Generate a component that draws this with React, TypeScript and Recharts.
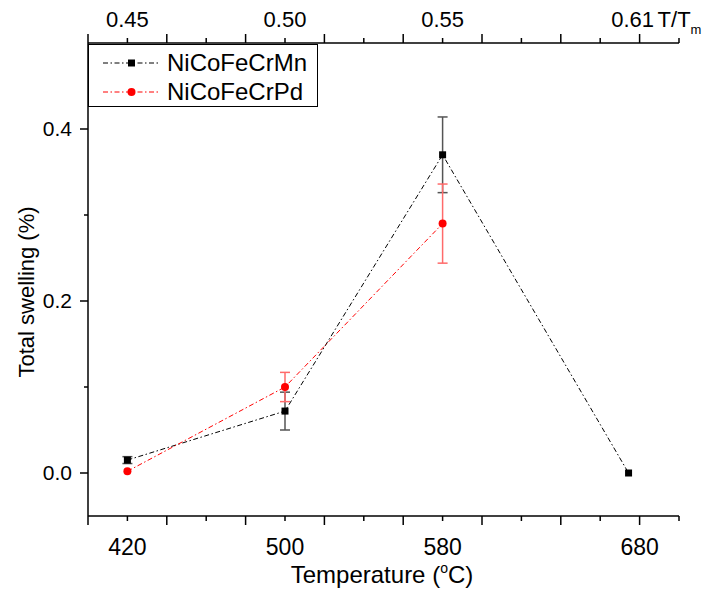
import React from "react";
import { ErrorBar, Legend, Line, LineChart, XAxis, YAxis } from "recharts";

// homologous temperature T/Tm of each irradiation
const tOverTm = [0.45, 0.5, 0.55, 0.609];
const mnSwelling = [0.015, 0.072, 0.37, 0.0];
const mnError: (number | null)[] = [0.004, 0.022, 0.044, null];
const pdSwelling: (number | null)[] = [0.002, 0.1, 0.29, null];
const pdError: (number | null)[] = [0, 0.017, 0.046, null];

const xTicks = [
  0.4375, 0.45, 0.4625, 0.475, 0.4875, 0.5, 0.5125, 0.525, 0.5375, 0.55, 0.5625, 0.575, 0.5875, 0.6,
  0.6125, 0.625,
];
const xLabelAt = [0.45, 0.5, 0.55, 0.6125];
const tempLabels = ["420", "500", "580", "680"];
const homLabels = ["0.45", "0.50", "0.55", "0.61"];
const yTicks = [0, 0.1, 0.2, 0.3, 0.4];
const yLabels = ["0.0", "", "0.2", "", "0.4"];

const seriesNames = ["NiCoFeCrMn", "NiCoFeCrPd"];
const seriesColors = ["#000000", "#ff0000"];

const FONT = "'Liberation Sans', Arial, sans-serif";
const DASH = "5 2.5 1.5 2.5";

const data = tOverTm.map((t, i) => ({
  t,
  mn: mnSwelling[i],
  mnErr: mnError[i],
  pd: pdSwelling[i],
  pdErr: pdError[i],
}));

function labelIndex(v: number) {
  return xLabelAt.findIndex((a) => Math.abs(a - v) < 1e-6);
}

function isMajor(v: number) {
  return Math.round((v - 0.4375) / 0.0125) % 2 === 0;
}

function BottomTick(props: any) {
  const { x, y, payload } = props;
  const v = payload.value;
  const li = labelIndex(v);
  return (
    <g>
      <line x1={x} x2={x} y1={y} y2={y + (isMajor(v) ? 9 : 5)} stroke="#000" strokeWidth={1.5} />
      {li >= 0 && (
        <text x={x} y={y + 39} textAnchor="middle" fontSize={23} fontFamily={FONT} fill="#000">
          {tempLabels[li]}
        </text>
      )}
    </g>
  );
}

function TopTick(props: any) {
  const { x, y, payload } = props;
  const v = payload.value;
  const li = labelIndex(v);
  const last = li === homLabels.length - 1;
  return (
    <g>
      <line x1={x} x2={x} y1={y} y2={y - (isMajor(v) ? 9 : 5)} stroke="#000" strokeWidth={1.5} />
      {li >= 0 && (
        <text
          x={last ? x - 7 : x}
          y={y - 16}
          textAnchor="middle"
          fontSize={22}
          fontFamily={FONT}
          fill="#000"
        >
          {homLabels[li]}
        </text>
      )}
      {last && (
        <text x={x + 18} y={y - 16} fontSize={22} fontFamily={FONT} fill="#000">
          T/T
          <tspan fontSize={13} dy={7} fill="#000">
            m
          </tspan>
        </text>
      )}
    </g>
  );
}

function LeftTick(props: any) {
  const { x, y, payload, index } = props;
  const label = yLabels[index];
  return (
    <g>
      <line x1={x} x2={x - (label ? 8 : 4)} y1={y} y2={y} stroke="#000" strokeWidth={1.5} />
      {label && (
        <text x={x - 16} y={y + 7} textAnchor="end" fontSize={21} fontFamily={FONT} fill="#000">
          {label}
        </text>
      )}
    </g>
  );
}

function SquareDot(props: any) {
  const { cx, cy, index } = props;
  if (cx == null || cy == null) return <g key={index} />;
  return <rect key={index} x={cx - 3.5} y={cy - 3.5} width={7} height={7} fill="#000" />;
}

function CircleDot(props: any) {
  const { cx, cy, index } = props;
  if (cx == null || cy == null) return <g key={index} />;
  return <circle key={index} cx={cx} cy={cy} r={4} fill="#ff0000" />;
}

function LegendBox() {
  return (
    <svg width={230} height={63} style={{ display: "block" }}>
      <rect x={0.5} y={0.5} width={229} height={62} fill="#fff" stroke="#000" strokeWidth={1} />
      {seriesNames.map((name, i) => {
        const cy = 19 + i * 29;
        return (
          <g key={name}>
            <line x1={15} x2={70} y1={cy} y2={cy} stroke={seriesColors[i]} strokeDasharray={DASH} />
            {i === 0 ? (
              <rect x={40} y={cy - 3.5} width={7} height={7} fill="#000" />
            ) : (
              <circle cx={43.5} cy={cy} r={4} fill="#ff0000" />
            )}
            <text x={79} y={cy + 8} fontSize={24} fontFamily={FONT} fill="#000">
              {name}
            </text>
          </g>
        );
      })}
    </svg>
  );
}

export default function App() {
  return (
    <div style={{ position: "absolute", left: 0, top: 0, background: "#fff" }}>
      <LineChart width={717} height={596} data={data} margin={{ top: 0, right: 38, bottom: 0, left: 0 }}>
        <XAxis
          xAxisId="bottom"
          dataKey="t"
          type="number"
          domain={[0.4375, 0.625]}
          ticks={xTicks}
          interval={0}
          height={80}
          tickSize={0}
          tickMargin={0}
          tickLine={false}
          axisLine={{ stroke: "#000", strokeWidth: 1.5 }}
          tick={<BottomTick />}
          label={{
            content: () => (
              <text x={382} y={583} textAnchor="middle" fontSize={24} fontFamily={FONT} fill="#000">
                Temperature (
                <tspan fontSize={14} dy={-10}>
                  o
                </tspan>
                <tspan dy={10}>C)</tspan>
              </text>
            ),
          }}
        />
        <XAxis
          xAxisId="top"
          orientation="top"
          dataKey="t"
          type="number"
          domain={[0.4375, 0.625]}
          ticks={xTicks}
          interval={0}
          height={43}
          tickSize={0}
          tickMargin={0}
          tickLine={false}
          axisLine={{ stroke: "#000", strokeWidth: 1.5 }}
          tick={<TopTick />}
        />
        <YAxis
          yAxisId="left"
          type="number"
          domain={[-0.05, 0.5]}
          ticks={yTicks}
          interval={0}
          width={88}
          tickSize={0}
          tickMargin={0}
          tickLine={false}
          axisLine={{ stroke: "#000", strokeWidth: 1.5 }}
          tick={<LeftTick />}
          label={{
            content: () => (
              <text
                x={34}
                y={292}
                textAnchor="middle"
                fontSize={22}
                fontFamily={FONT}
                fill="#000"
                transform="rotate(-90 34 292)"
              >
                Total swelling (%)
              </text>
            ),
          }}
        />
        <YAxis
          yAxisId="right"
          orientation="right"
          type="number"
          domain={[-0.05, 0.5]}
          width={0}
          tick={false}
          tickLine={false}
          axisLine={{ stroke: "#000", strokeWidth: 1.5 }}
        />
        <Legend
          layout="vertical"
          align="center"
          verticalAlign="middle"
          wrapperStyle={{ left: 88, top: 44, width: 230, height: 63 }}
          content={() => <LegendBox />}
        />
        <Line
          xAxisId="bottom"
          yAxisId="left"
          dataKey="mn"
          name={seriesNames[0]}
          stroke={seriesColors[0]}
          strokeWidth={1}
          strokeDasharray={DASH}
          dot={SquareDot}
          activeDot={false}
          isAnimationActive={false}
        >
          <ErrorBar dataKey="mnErr" width={5} stroke="#555" strokeWidth={1.5} direction="y" />
        </Line>
        <Line
          xAxisId="bottom"
          yAxisId="left"
          dataKey="pd"
          name={seriesNames[1]}
          stroke={seriesColors[1]}
          strokeWidth={1}
          strokeDasharray={DASH}
          dot={CircleDot}
          activeDot={false}
          isAnimationActive={false}
        >
          <ErrorBar dataKey="pdErr" width={5} stroke="#ff6a6a" strokeWidth={1.5} direction="y" />
        </Line>
      </LineChart>
    </div>
  );
}
